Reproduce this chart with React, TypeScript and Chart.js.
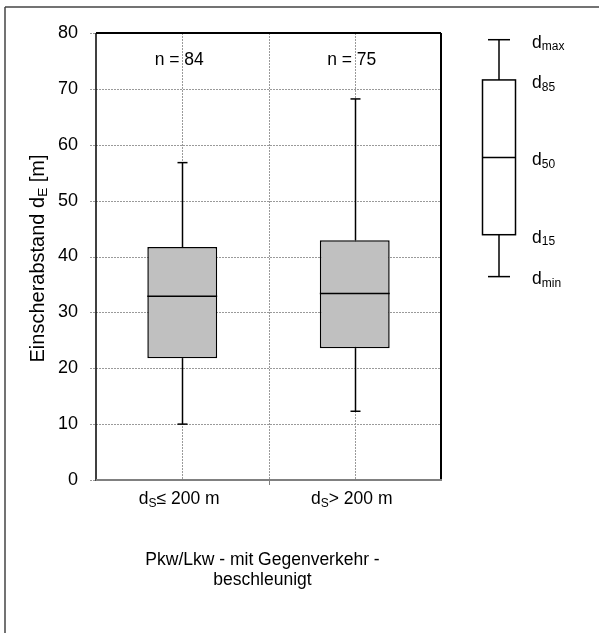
import React, { useEffect, useRef } from 'react';
import { Chart, registerables } from 'chart.js';

Chart.register(...registerables);

// ---- data ----
const categories = ['d_S ≤ 200 m', 'd_S > 200 m'];
const catRest = ['≤ 200 m', '> 200 m'];
const minValues = [10.0, 12.3];
const p15Values = [21.8, 23.6];
const medianValues = [32.9, 33.4];
const p85Values = [41.7, 42.9];
const maxValues = [56.8, 68.2];
const sampleSizes = [84, 75];

const legendSubs = ['min', '15', '50', '85', 'max'];
const legendValues = [36.4, 43.9, 57.7, 71.6, 78.8];

const yMin = 0;
const yMax = 80;
const yStep = 10;

const xTitleLines = ['Pkw/Lkw - mit Gegenverkehr -', 'beschleunigt'];
const yTitleParts = [
  { t: 'Einscherabstand d', sub: false },
  { t: 'E', sub: true },
  { t: ' [m]', sub: false },
];

const FONT = '"Liberation Sans", Arial, sans-serif';
const FS = 17.5;
const SFS = 12;

type Part = { t: string; sub: boolean };

function measureParts(ctx: CanvasRenderingContext2D, parts: Part[], fs: number, sfs: number) {
  let w = 0;
  for (const p of parts) {
    ctx.font = `${p.sub ? sfs : fs}px ${FONT}`;
    w += ctx.measureText(p.t).width;
  }
  return w;
}

function drawParts(
  ctx: CanvasRenderingContext2D,
  parts: Part[],
  x: number,
  y: number,
  align: 'left' | 'center',
  fs = FS,
  sfs = SFS
) {
  const w = measureParts(ctx, parts, fs, sfs);
  let cx = align === 'center' ? x - w / 2 : x;
  ctx.textAlign = 'left';
  ctx.textBaseline = 'middle';
  ctx.fillStyle = '#000';
  for (const p of parts) {
    ctx.font = `${p.sub ? sfs : fs}px ${FONT}`;
    ctx.fillText(p.t, cx, p.sub ? y + fs * 0.25 : y);
    cx += ctx.measureText(p.t).width;
  }
}

function dotted(ctx: CanvasRenderingContext2D, x1: number, y1: number, x2: number, y2: number) {
  ctx.save();
  ctx.strokeStyle = '#9a9a9a';
  ctx.lineWidth = 1;
  ctx.setLineDash([2, 1]);
  ctx.beginPath();
  ctx.moveTo(x1, y1);
  ctx.lineTo(x2, y2);
  ctx.stroke();
  ctx.restore();
}

function line(ctx: CanvasRenderingContext2D, x1: number, y1: number, x2: number, y2: number, color = '#000', w = 1.5) {
  ctx.save();
  ctx.strokeStyle = color;
  ctx.lineWidth = w;
  ctx.beginPath();
  ctx.moveTo(x1, y1);
  ctx.lineTo(x2, y2);
  ctx.stroke();
  ctx.restore();
}

const boxPlugin = {
  id: 'boxPlugin',
  beforeDatasetsDraw(chart: any) {
    const ctx = chart.ctx as CanvasRenderingContext2D;
    const { left, right, top, bottom } = chart.chartArea;
    const ys = chart.scales.y;
    const xs = chart.scales.x;
    for (let v = yMin; v <= yMax; v += yStep) {
      const py = Math.round(ys.getPixelForValue(v)) + 0.5;
      dotted(ctx, left - 6, py, right, py);
    }
    const c0 = xs.getPixelForValue(0);
    const c1 = xs.getPixelForValue(1);
    const sep = (c0 + c1) / 2;
    [c0, sep, c1].forEach((cx) => {
      const px = Math.round(cx) + 0.5;
      dotted(ctx, px, top, px, bottom);
    });
  },
  afterDatasetsDraw(chart: any) {
    const ctx = chart.ctx as CanvasRenderingContext2D;
    const { left, right, top, bottom } = chart.chartArea;
    const ys = chart.scales.y;
    const xs = chart.scales.x;
    const meta = chart.getDatasetMeta(0);

    // whiskers and medians
    categories.forEach((_, i) => {
      const bar = meta.data[i];
      const cx = Math.round(bar.x) + 0.5;
      const half = bar.width / 2;
      const yMaxP = ys.getPixelForValue(maxValues[i]);
      const yMinP = ys.getPixelForValue(minValues[i]);
      const y85 = ys.getPixelForValue(p85Values[i]);
      const y15 = ys.getPixelForValue(p15Values[i]);
      const yMed = ys.getPixelForValue(medianValues[i]);
      line(ctx, cx, yMaxP, cx, y85);
      line(ctx, cx, y15, cx, yMinP);
      line(ctx, cx - 5, yMaxP, cx + 5, yMaxP);
      line(ctx, cx - 5, yMinP, cx + 5, yMinP);
      line(ctx, bar.x - half, yMed, bar.x + half, yMed);

      // n labels
      ctx.font = `${FS}px ${FONT}`;
      ctx.fillStyle = '#000';
      ctx.textAlign = 'center';
      ctx.textBaseline = 'middle';
      ctx.fillText(`n = ${sampleSizes[i]}`, bar.x - 3, top + 27);

      // x labels
      drawParts(ctx, [
        { t: 'd', sub: false },
        { t: 'S', sub: true },
        { t: catRest[i], sub: false },
      ], xs.getPixelForValue(i) - 3, bottom + 19, 'center');
    });

    // axes / frame of plot area
    line(ctx, left, top, right, top, '#000', 2);
    line(ctx, right, top, right, bottom, '#000', 2);
    line(ctx, left, top, left, bottom + 1, '#000', 1.5);
    line(ctx, left, bottom, right + 1, bottom, '#808080', 2);
    const sep = (xs.getPixelForValue(0) + xs.getPixelForValue(1)) / 2;
    line(ctx, Math.round(sep) + 0.5, bottom, Math.round(sep) + 0.5, bottom + 5, '#808080', 1);

    // y title
    ctx.save();
    ctx.translate(38, (top + bottom) / 2 + 2);
    ctx.rotate(-Math.PI / 2);
    drawParts(ctx, yTitleParts, 0, 0, 'center', 20, 13.5);
    ctx.restore();

    // x title
    ctx.font = `${FS}px ${FONT}`;
    ctx.fillStyle = '#000';
    ctx.textAlign = 'center';
    ctx.textBaseline = 'middle';
    xTitleLines.forEach((t, k) => {
      ctx.fillText(t, (left + right) / 2 - 6, bottom + 80 + k * 20);
    });

    // legend box
    const lx = right + 58;
    const pMin = ys.getPixelForValue(legendValues[0]);
    const p15 = ys.getPixelForValue(legendValues[1]);
    const p50 = ys.getPixelForValue(legendValues[2]);
    const p85 = ys.getPixelForValue(legendValues[3]);
    const pMax = ys.getPixelForValue(legendValues[4]);
    ctx.save();
    ctx.fillStyle = '#fff';
    ctx.fillRect(lx - 16.5, p85, 33, p15 - p85);
    ctx.strokeStyle = '#000';
    ctx.lineWidth = 1.5;
    ctx.strokeRect(lx - 16.5, p85, 33, p15 - p85);
    ctx.restore();
    line(ctx, lx - 16.5, p50, lx + 16.5, p50);
    line(ctx, lx, pMax, lx, p85);
    line(ctx, lx, p15, lx, pMin);
    line(ctx, lx - 11, pMax, lx + 11, pMax);
    line(ctx, lx - 11, pMin, lx + 11, pMin);
    legendValues.forEach((v, k) => {
      drawParts(ctx, [
        { t: 'd', sub: false },
        { t: legendSubs[k], sub: true },
      ], right + 91, ys.getPixelForValue(v) + 3, 'left');
    });

    // outer frame (left and top edges)
    line(ctx, 5, 7, 599, 7, '#444', 1.5);
    line(ctx, 5, 7, 5, 633, '#444', 1.5);
  },
};

export default function App() {
  const ref = useRef<HTMLCanvasElement | null>(null);
  useEffect(() => {
    if (!ref.current) return;
    const chart = new Chart(ref.current, {
      type: 'bar',
      data: {
        labels: categories,
        datasets: [
          {
            data: p15Values.map((v, i) => [v, p85Values[i]]) as any,
            backgroundColor: '#c0c0c0',
            borderColor: '#000',
            borderWidth: 1.5,
            borderSkipped: false,
            categoryPercentage: 1,
            barPercentage: 0.405,
          },
        ],
      },
      options: {
        responsive: false,
        animation: false,
        devicePixelRatio: 1,
        layout: { padding: { left: 0, right: 158, top: 33, bottom: 0 } },
        plugins: { legend: { display: false }, tooltip: { enabled: false }, title: { display: false } },
        scales: {
          x: {
            type: 'category',
            grid: { display: false },
            border: { display: false },
            ticks: { display: false },
            afterFit: (s: any) => {
              s.height = 153;
            },
          },
          y: {
            min: yMin,
            max: yMax,
            grid: { display: true, drawOnChartArea: false, drawTicks: false, color: 'rgba(0,0,0,0)' },
            border: { display: false },
            ticks: {
              stepSize: yStep,
              padding: 18,
              color: '#000',
              font: { family: FONT, size: 18 },
            },
            afterFit: (s: any) => {
              s.width = 96;
            },
          },
        },
      },
      plugins: [boxPlugin],
    });
    return () => chart.destroy();
  }, []);
  return (
    <div style={{ position: 'fixed', left: 0, top: 0, width: 599, height: 633, background: '#fff' }}>
      <canvas ref={ref} width={599} height={633} style={{ display: 'block' }} />
    </div>
  );
}
